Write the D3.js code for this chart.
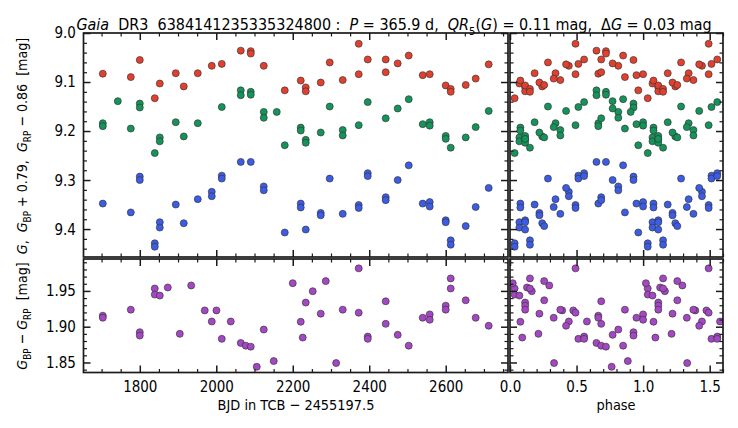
<!DOCTYPE html>
<html><head><meta charset="utf-8">
<script src="https://cdn.jsdelivr.net/npm/d3@7"></script>
<style>
body{margin:0;background:#fff}
svg{display:block}
text{font-family:"DejaVu Sans",sans-serif;fill:#000;white-space:pre}
</style></head><body>
<svg id="c" width="738" height="428"></svg>
<script>
// ---- data ----
const period = 365.9;
const epoch0 = 1826.5;

const rpTimes = [1703.3,1776.5,1800.0,1852.3,1839.2,1894.1,1915.0,1951.6,1988.2,2014.4,2064.1,2090.2,2090.2,2124.2,2179.1,2220.9,2234.0,2234.0,2273.2,2296.7,2330.7,2372.5,2372.5,2396.1,2443.1,2443.1,2474.5,2503.3,2539.9,2558.2,2600.0,2613.1,2613.1,2652.3,2678.4,2712.4];
const rpValues = [9.083,9.090,9.055,9.103,9.133,9.082,9.109,9.082,9.067,9.063,9.036,9.037,9.042,9.067,9.117,9.097,9.111,9.119,9.101,9.060,9.096,9.022,9.084,9.054,9.054,9.080,9.062,9.046,9.086,9.084,9.107,9.114,9.120,9.106,9.093,9.064];

const gTimes = [1703.3,1703.3,1742.5,1776.5,1800.0,1800.0,1839.2,1852.3,1852.3,1894.1,1915.0,1951.6,2014.4,2064.1,2064.1,2090.2,2090.2,2124.2,2124.2,2158.2,2179.1,2220.9,2220.9,2234.0,2234.0,2273.2,2296.7,2330.7,2330.7,2372.5,2396.1,2443.1,2474.5,2503.3,2539.9,2558.2,2558.2,2600.0,2600.0,2613.1,2652.3,2678.4,2712.4];
const gValues = [9.184,9.190,9.139,9.195,9.144,9.152,9.245,9.213,9.221,9.182,9.211,9.184,9.151,9.117,9.127,9.120,9.126,9.161,9.173,9.161,9.229,9.193,9.199,9.218,9.224,9.203,9.150,9.198,9.209,9.188,9.141,9.174,9.154,9.135,9.186,9.182,9.189,9.210,9.216,9.234,9.213,9.192,9.159];

const bpTimes = [1703.3,1776.5,1800.0,1800.0,1839.2,1839.2,1852.3,1852.3,1894.1,1915.0,1951.6,1988.2,1988.2,2014.4,2014.4,2064.1,2090.2,2124.2,2124.2,2179.1,2220.9,2220.9,2234.0,2273.2,2273.2,2296.7,2330.7,2372.5,2372.5,2396.1,2396.1,2443.1,2443.1,2474.5,2503.3,2539.9,2558.2,2558.2,2600.0,2600.0,2613.1,2613.1,2652.3,2678.4,2712.4];
const bpValues = [9.348,9.366,9.293,9.300,9.429,9.436,9.386,9.397,9.350,9.388,9.339,9.324,9.333,9.291,9.297,9.263,9.263,9.313,9.321,9.407,9.348,9.356,9.401,9.367,9.372,9.297,9.369,9.351,9.357,9.286,9.292,9.335,9.341,9.300,9.270,9.348,9.345,9.354,9.382,9.386,9.423,9.432,9.394,9.355,9.316];

const colTimes = [1703.3,1703.3,1776.5,1800.0,1800.0,1839.2,1839.2,1852.3,1873.2,1904.6,1934.4,1969.9,1988.2,2000.5,2014.4,2037.9,2064.1,2077.1,2090.2,2105.9,2124.2,2150.3,2200.0,2220.9,2226.1,2234.0,2252.3,2273.2,2286.3,2313.5,2330.7,2372.5,2372.5,2396.1,2396.1,2443.1,2443.1,2474.5,2503.3,2539.9,2558.2,2558.2,2600.0,2600.0,2613.1,2613.1,2652.3,2678.4,2712.4];
const colValues = [1.9154,1.9125,1.9238,1.8923,1.8876,1.9534,1.9449,1.9435,1.9548,1.8900,1.9576,1.9228,1.9073,1.9228,1.8830,1.9073,1.8773,1.8735,1.8721,1.8440,1.8960,1.8520,1.9608,1.9069,1.8848,1.9337,1.9496,1.9182,1.9637,1.8492,1.9238,1.9815,1.9196,1.8862,1.8830,1.9355,1.9040,1.8886,1.8735,1.9125,1.9172,1.9097,1.9294,1.9238,1.9675,1.9534,1.9369,1.9125,1.9013];

const timeTicks = [1800,2000,2200,2400,2600];
const phaseTicks = [0,0.5,1.0,1.5];
const magTicks = [9.0,9.1,9.2,9.3,9.4];
const colTicks = [1.85,1.90,1.95];

// ---- layout ----
const SX = 0.87, FS = 15.5;
const svg = d3.select("#c");
const P = {l:83.5, lr:508, r0:510, r:723, t:33, tb:257, b0:259, b:372.5};

const xT = d3.scaleLinear().domain([1652.8, 2762.9]).range([P.l, P.lr]);
const xP = d3.scaleLinear().domain([0, 1.6]).range([P.r0, P.r]);
const yM = d3.scaleLinear().domain([9.0, 9.457]).range([P.t, P.tb]);
const yC = d3.scaleLinear().domain([1.836, 1.9946]).range([P.b, P.b0]);

const rng = (a,b,s,d)=>d3.range(Math.round((b-a)/s)+1).map(i=>+(a+i*s).toFixed(d));
const timeMinor = rng(1700,2750,50,0);
const phaseMinor = rng(0,1.6,0.1,2);
const magMinor = rng(9.0,9.44,0.02,2);
const colMinor = rng(1.84,1.99,0.01,2);

const colors = {rp:"#e2402f", g:"#14935a", bp:"#3c5ce6", col:"#a547c4"};

function phaseOf(t){ const p=((t-epoch0)/period)%1; return p<0?p+1:p; }

let clipId=0;
function panel(x0,x1,y0,y1){
  const id="cp"+(clipId++);
  svg.append("clipPath").attr("id",id).append("rect").attr("x",x0).attr("y",y0).attr("width",x1-x0).attr("height",y1-y0);
  return svg.append("g").attr("clip-path",`url(#${id})`);
}

function dots(g, xs, ys, color){
  g.selectAll(null).data(xs.map((x,i)=>[x,ys[i]])).join("circle")
    .attr("cx",d=>d[0]).attr("cy",d=>d[1]).attr("r",3.5)
    .attr("fill",color).attr("stroke","#333").attr("stroke-width",0.65);
}

function axis(gen, scale, vals, size, tr, withLabels, fmt, pad){
  const a = gen(scale).tickValues(vals).tickSize(-size).tickPadding(pad||7)
     .tickFormat(withLabels? fmt : ()=>"");
  const g = svg.append("g").attr("transform",tr).call(a);
  g.select(".domain").remove();
  g.selectAll(".tick line").attr("stroke","#1a1a1a").attr("stroke-width", size>5?1.5:1.2);
  g.attr("font-size",FS).attr("font-family","DejaVu Sans");
  g.selectAll("text").attr("fill","#000").attr("transform",`scale(${SX},1)`);
  return g;
}

function frameAxes(xs, ys, x0,x1,y0,y1, xMaj,xMin, yMaj,yMin, xLab, yLab, xFmt, yFmt){
  const notMaj = (mn,mj)=>mn.filter(v=>!mj.some(m=>Math.abs(m-v)<1e-9));
  axis(d3.axisBottom, xs, xMaj, 7, `translate(0,${y1})`, xLab, xFmt, 9);
  axis(d3.axisBottom, xs, notMaj(xMin,xMaj), 3.5, `translate(0,${y1})`, false);
  axis(d3.axisTop, xs, xMaj, 7, `translate(0,${y0})`, false);
  axis(d3.axisTop, xs, notMaj(xMin,xMaj), 3.5, `translate(0,${y0})`, false);
  axis(d3.axisLeft, ys, yMaj, 7, `translate(${x0},0)`, yLab, yFmt, 8.7);
  axis(d3.axisLeft, ys, notMaj(yMin,yMaj), 3.5, `translate(${x0},0)`, false);
  axis(d3.axisRight, ys, yMaj, 7, `translate(${x1},0)`, false);
  axis(d3.axisRight, ys, notMaj(yMin,yMaj), 3.5, `translate(${x1},0)`, false);
  svg.append("rect").attr("x",x0).attr("y",y0).attr("width",x1-x0).attr("height",y1-y0)
    .attr("fill","none").attr("stroke","#1a1a1a").attr("stroke-width",1.7);
}

// ---- panels ----
const gTL = panel(P.l,P.lr,P.t,P.tb);
dots(gTL, rpTimes.map(xT), rpValues.map(yM), colors.rp);
dots(gTL, gTimes.map(xT), gValues.map(yM), colors.g);
dots(gTL, bpTimes.map(xT), bpValues.map(yM), colors.bp);

const gTR = panel(P.r0,P.r,P.t,P.tb);
function folded(g, ts, vs, ys, color){
  const px=[], py=[];
  ts.forEach((t,i)=>{ const p=phaseOf(t); [p,p+1].forEach(q=>{ if(q<=1.6){px.push(xP(q)); py.push(ys(vs[i]));} }); });
  dots(g, px, py, color);
}
folded(gTR, rpTimes, rpValues, yM, colors.rp);
folded(gTR, gTimes, gValues, yM, colors.g);
folded(gTR, bpTimes, bpValues, yM, colors.bp);

const gBL = panel(P.l,P.lr,P.b0,P.b);
dots(gBL, colTimes.map(xT), colValues.map(yC), colors.col);
const gBR = panel(P.r0,P.r,P.b0,P.b);
folded(gBR, colTimes, colValues, yC, colors.col);

const f1 = d3.format(".1f"), f2 = d3.format(".2f"), f0 = d3.format("d");
frameAxes(xT, yM, P.l,P.lr,P.t,P.tb, timeTicks,timeMinor, magTicks,magMinor, false, true, f0, f1);
frameAxes(xP, yM, P.r0,P.r,P.t,P.tb, phaseTicks,phaseMinor, magTicks,magMinor, false, false, f1, f1);
frameAxes(xT, yC, P.l,P.lr,P.b0,P.b, timeTicks,timeMinor, colTicks,colMinor, true, true, f0, f2);
frameAxes(xP, yC, P.r0,P.r,P.b0,P.b, phaseTicks,phaseMinor, colTicks,colMinor, true, false, f1, f2);

// ---- texts ----
function rich(x,y,segs,size,rot,anchor,sx){
  const g = svg.append("g").attr("transform",`translate(${x},${y}) rotate(${rot||0}) scale(${sx||SX},1)`);
  const t = g.append("text").attr("font-size",size).attr("text-anchor",anchor||"middle");
  let shift=0;
  segs.forEach(s=>{
    const sp=t.append("tspan").text(s.t);
    const target = s.sub ? size*0.3 : 0;
    if(target!==shift){ sp.attr("dy",target-shift); shift=target; }
    if(s.sub) sp.attr("font-size",size*0.7);
    if(s.i) sp.attr("font-style","italic");
  });
  return t;
}
rich(394,30,[{t:"Gaia",i:1},{t:"  DR3  6384141235335324800 :  "},{t:"P",i:1},{t:" = 365.9 d,  "},{t:"QR",i:1},{t:"5",sub:1},{t:"("},{t:"G",i:1},{t:") = 0.11 mag,  Δ"},{t:"G",i:1},{t:" = 0.03 mag"}],FS*1.03,0,"middle",0.9);
rich(296,410,[{t:"BJD in TCB − 2455197.5"}],FS*0.96);
rich(616,410,[{t:"phase"}],FS*0.96);
rich(27,146,[{t:"G",i:1},{t:",  "},{t:"G",i:1},{t:"BP",sub:1},{t:" + 0.79,  "},{t:"G",i:1},{t:"RP",sub:1},{t:" − 0.86  [mag]"}],FS*0.94,-90);
rich(27,316,[{t:"G",i:1},{t:"BP",sub:1},{t:" − "},{t:"G",i:1},{t:"RP",sub:1},{t:"  [mag]"}],FS*0.94,-90);
</script>
</body></html>
